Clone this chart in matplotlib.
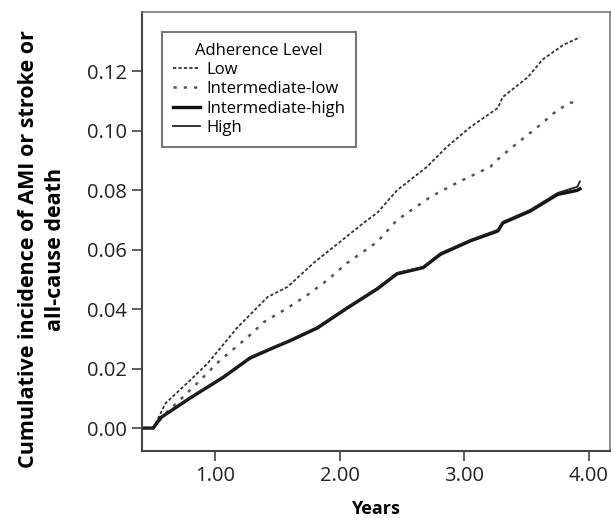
import matplotlib.pyplot as plt
import matplotlib.ticker as mticker

plt.rcParams['font.family'] = ['Open Sans', 'DejaVu Sans']

# cumulative incidence (years, proportion)
low_x = [0.41, 0.50, 0.60, 0.80, 0.94, 1.18, 1.42, 1.58, 1.79, 2.00, 2.19, 2.30,
         2.46, 2.70, 2.86, 3.05, 3.27, 3.31, 3.51, 3.63, 3.80, 3.93]
low_y = [0, 0, 0.0084, 0.0162, 0.0219, 0.0340, 0.0441, 0.0475, 0.0556, 0.0626, 0.0690, 0.0724,
         0.0800, 0.0879, 0.0946, 0.1013, 0.1077, 0.1114, 0.1180, 0.1240, 0.1290, 0.1315]

intlow_x = [0.41, 0.50, 0.60, 0.69, 0.88, 1.04, 1.26, 1.39, 1.58, 1.74, 1.90, 2.06, 2.30,
            2.46, 2.73, 2.94, 3.21, 3.29, 3.43, 3.59, 3.75, 3.85, 3.93]
intlow_y = [0, 0, 0.0050, 0.0084, 0.0162, 0.0229, 0.0306, 0.0357, 0.0404, 0.0448, 0.0498, 0.0556, 0.0626,
            0.0700, 0.0778, 0.0825, 0.0879, 0.0912, 0.0960, 0.1013, 0.1070, 0.1094, 0.1100]

inthigh_x = [0.41, 0.50, 0.56, 0.80, 1.06, 1.28, 1.47, 1.60, 1.82, 2.06, 2.30, 2.46,
             2.67, 2.81, 3.05, 3.27, 3.31, 3.53, 3.75, 3.91, 3.93]
inthigh_y = [0, 0, 0.0035, 0.0102, 0.0170, 0.0236, 0.0271, 0.0294, 0.0337, 0.0404, 0.0468, 0.0519,
             0.0540, 0.0585, 0.0630, 0.0663, 0.0690, 0.0730, 0.0786, 0.0800, 0.0805]

high_x = [0.41, 0.50, 0.56, 0.80, 1.06, 1.28, 1.47, 1.60, 1.82, 2.06, 2.30, 2.46,
          2.67, 2.81, 3.05, 3.27, 3.31, 3.53, 3.75, 3.91, 3.93]
high_y = [0, 0, 0.0037, 0.0104, 0.0172, 0.0239, 0.0273, 0.0296, 0.0340, 0.0407, 0.0471, 0.0522,
          0.0542, 0.0589, 0.0633, 0.0667, 0.0694, 0.0734, 0.0791, 0.0812, 0.0830]

fig = plt.figure(figsize=(6.11, 5.21), dpi=100)
ax = fig.add_axes([0.2324, 0.1344, 0.7656, 0.8426])

ax.plot(low_x, low_y, color='#333333', lw=1.3, dashes=(1.8, 1.2), label='Low')
ax.plot(intlow_x, intlow_y, color='#555555', lw=1.8, dashes=(1.3, 2.8), label='Intermediate-low')
ax.plot(inthigh_x, inthigh_y, color='#111111', lw=2.4, label='Intermediate-high')
ax.plot(high_x, high_y, color='#222222', lw=1.3, label='High')

ax.set_xlim(0.41, 4.17)
ax.set_ylim(-0.0077, 0.140)
ax.set_xticks([1, 2, 3, 4])
ax.set_yticks([0, 0.02, 0.04, 0.06, 0.08, 0.10, 0.12])
ax.xaxis.set_major_formatter(mticker.FormatStrFormatter('%.2f'))
ax.yaxis.set_major_formatter(mticker.FormatStrFormatter('%.2f'))
ax.tick_params(axis='both', direction='out', length=7, width=1.2, color='#444444',
               labelsize=14.5, labelcolor='#222222', pad=4)

for side in ['left', 'bottom']:
    ax.spines[side].set_color('#444444')
    ax.spines[side].set_linewidth(1.5)
for side in ['top', 'right']:
    ax.spines[side].set_color('#777777')
    ax.spines[side].set_linewidth(1.2)

ax.set_xlabel('Years', fontsize=13, fontweight='bold', labelpad=10)
ax.set_ylabel('Cumulative incidence of AMI or stroke or\nall-cause death',
              fontsize=15.5, fontweight='bold', linespacing=1.35)
ax.yaxis.set_label_coords(-0.163, 0.46)

leg = ax.legend(title='Adherence Level', loc='upper left', bbox_to_anchor=(0.043, 0.955),
                borderaxespad=0, fontsize=12, title_fontsize=12, frameon=True, fancybox=False,
                handlelength=1.6, handletextpad=0.4, borderpad=0.65, labelspacing=0.2)
leg.get_frame().set_edgecolor('#555555')
leg.get_frame().set_linewidth(1.5)

fig.savefig('out.png', dpi=100)
